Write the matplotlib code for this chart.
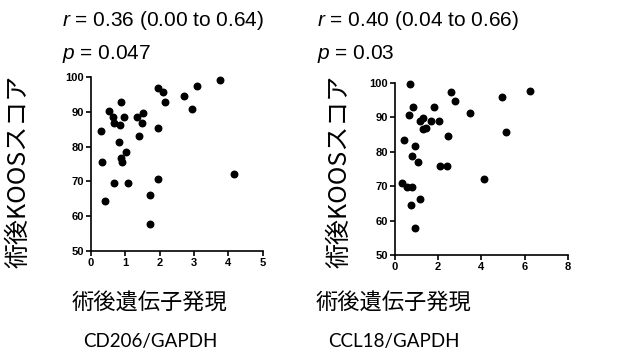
import matplotlib
matplotlib.use('Agg')
import matplotlib.pyplot as plt

plt.rcParams['mathtext.fontset'] = 'custom'
plt.rcParams['mathtext.it'] = 'Liberation Sans:italic'
plt.rcParams['mathtext.rm'] = 'Liberation Sans'

# CD206/GAPDH vs KOOS score
cd206_x = [0.29, 0.34, 0.42, 0.52, 0.64, 0.69, 0.69, 0.85, 0.87, 0.96, 0.82, 0.87, 0.90, 1.04, 1.09, 1.36,
           1.53, 1.49, 1.41, 1.95, 2.09, 2.16, 1.97, 1.96, 1.73, 1.72, 2.70, 3.10, 2.94, 3.75, 4.17]
cd206_y = [84.5, 75.6, 64.3, 90.4, 88.6, 86.9, 69.6, 86.2, 92.8, 88.6, 81.4, 76.8, 75.6, 78.6, 69.5, 88.5,
           89.7, 86.7, 83.2, 96.9, 95.8, 92.8, 85.5, 70.8, 66.1, 57.7, 94.5, 97.4, 91.0, 99.2, 72.0]

# CCL18/GAPDH vs KOOS score
ccl18_x = [0.69, 0.82, 0.63, 1.16, 1.31, 1.28, 1.42, 1.67, 1.81, 2.05, 2.58, 2.76, 3.46, 4.96, 6.24,
           5.14, 2.44, 0.43, 0.93, 0.80, 1.07, 2.08, 2.42, 0.32, 0.56, 0.77, 4.12, 0.76, 1.14, 0.94]
ccl18_y = [99.5, 93.0, 90.6, 89.0, 89.9, 86.5, 86.9, 88.9, 93.0, 88.9, 97.2, 94.8, 91.2, 95.9, 97.7,
           85.8, 84.6, 83.4, 81.6, 78.7, 77.0, 75.7, 75.7, 71.0, 69.7, 69.7, 72.1, 64.4, 66.2, 57.8]

stats = [('0.36 (0.00 to 0.64)', '0.047'), ('0.40 (0.04 to 0.66)', '0.03')]
genes = ['CD206/GAPDH', 'CCL18/GAPDH']
xlims = [(0, 5), (0, 8)]
xticks = [[0, 1, 2, 3, 4, 5], [0, 2, 4, 6, 8]]
yticks = [50, 60, 70, 80, 90, 100]

ylabel = '術後KOOSスコア'
xlabel = '術後遺伝子発現'

jp = ['Noto Sans CJK JP', 'DejaVu Sans']
W, H = 627, 354

fig = plt.figure(figsize=(6.27, 3.54), dpi=100)
boxes = [[90.7, 77.3, 262.7, 250.7], [395, 82.7, 567.7, 255]]
data = [(cd206_x, cd206_y), (ccl18_x, ccl18_y)]
text_x = [62, 317]
ylab_x = [19, 340]
xlab_x = [150, 394]

for i in range(2):
    x0, y0, x1, y1 = boxes[i]
    ax = fig.add_axes([x0 / W, 1 - y1 / H, (x1 - x0) / W, (y1 - y0) / H])
    ax.scatter(data[i][0], data[i][1], s=22, color='black', zorder=3, clip_on=False)
    ax.set_xlim(*xlims[i])
    ax.set_ylim(50, 100)
    tick_font = dict(fontweight='bold', fontfamily='Liberation Sans', fontsize=8)
    ax.set_xticks(xticks[i], [str(t) for t in xticks[i]], **tick_font)
    ax.set_yticks(yticks, [str(t) for t in yticks], **tick_font)
    for s in ['top', 'right']:
        ax.spines[s].set_visible(False)
    for s in ['left', 'bottom']:
        ax.spines[s].set_linewidth(1.2)
    ax.tick_params(width=1.2, length=3.5, pad=1.5)

    # stats text
    fig.text(text_x[i] / W, 1 - 26 / H, r'$r$ = ' + stats[i][0], fontsize=15,
             family='Liberation Sans', ha='left', va='baseline')
    fig.text(text_x[i] / W, 1 - 59 / H, r'$p$ = ' + stats[i][1], fontsize=15,
             family='Liberation Sans', ha='left', va='baseline')

    fig.text(ylab_x[i] / W, 1 - 171 / H, ylabel, rotation=90, fontsize=18,
             family=jp, ha='center', va='center')
    fig.text(xlab_x[i] / W, 1 - 302 / H, xlabel, fontsize=16,
             family=jp, ha='center', va='center')
    fig.text(xlab_x[i] / W, 1 - 341 / H, genes[i], fontsize=13.5,
             family='Lato', ha='center', va='center')

fig.savefig('out.png', dpi=100)
